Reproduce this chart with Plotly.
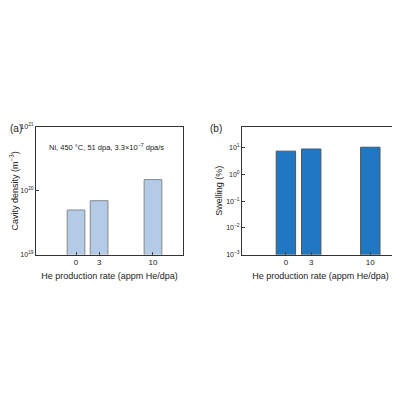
import plotly.graph_objects as go

he_rate = [0, 3, 10]
cavity_density = [5.0e19, 7.0e19, 1.5e20]
swelling = [7.5, 9.0, 10.5]
tick_labels = ["0", "3", "10"]

W = 400
OFF = 7
def px(a, b): return [(a - OFF) / W, (b - OFF) / W]
def py(a, b): return [1 - (b - OFF) / W, 1 - (a - OFF) / W]

fig = go.Figure()
fig.add_bar(x=he_rate, y=cavity_density, width=2.3, marker=dict(color="#b3cbe6", line=dict(color="#888888", width=1)), xaxis="x", yaxis="y")
fig.add_bar(x=he_rate, y=swelling, width=2.3, marker=dict(color="#1f78c1", line=dict(color="#555555", width=1)), xaxis="x2", yaxis="y2")

ax = dict(showline=True, linecolor="#333", mirror=True, ticks="inside", ticklen=3, showgrid=False, zeroline=False,
          tickfont=dict(size=8, family="Arial, Liberation Sans"))
fig.update_layout(
    width=400, height=400, margin=dict(l=0, r=0, t=0, b=0), showlegend=False,
    plot_bgcolor="white", paper_bgcolor="white",
    font=dict(family="Arial, Liberation Sans", size=9, color="#222"),
    xaxis=dict(ax, domain=px(35, 182), range=[-5.2, 13.9], tickvals=he_rate, ticktext=tick_labels, anchor="y",
               title=dict(text="He production rate (appm He/dpa)", standoff=6, font=dict(size=9))),
    yaxis=dict(ax, domain=py(124, 254), type="log", range=[19, 21], tickvals=[1e19, 1e20, 1e21],
               ticktext=["10<sup>19</sup>", "10<sup>20</sup>", "10<sup>21</sup>"], tickfont=dict(size=7), anchor="x",
               title=dict(text="Cavity density (m<sup>−3</sup>)", standoff=2, font=dict(size=9))),
    xaxis2=dict(ax, domain=px(241, 398), range=[-5.2, 13.4], tickvals=he_rate, ticktext=tick_labels, anchor="y2",
                title=dict(text="He production rate (appm He/dpa)", standoff=6, font=dict(size=9))),
    yaxis2=dict(ax, domain=py(124, 254), type="log", range=[-3, 1.78], tickvals=[1e-3, 1e-2, 1e-1, 1, 10],
                ticktext=["10<sup>−3</sup>", "10<sup>−2</sup>", "10<sup>−1</sup>", "10<sup>0</sup>", "10<sup>1</sup>"],
                tickfont=dict(size=7), anchor="x2",
                title=dict(text="Swelling (%)", standoff=2, font=dict(size=9))),
    annotations=[
        dict(text="(a)", x=(0) / W, y=1 - (126 - OFF) / W, xref="paper", yref="paper", xanchor="left", yanchor="middle", showarrow=False, font=dict(size=10)),
        dict(text="(b)", x=(207 - OFF) / W, y=1 - (126 - OFF) / W, xref="paper", yref="paper", xanchor="left", yanchor="middle", showarrow=False, font=dict(size=10)),
        dict(text="Ni, 450 °C, 51 dpa, 3.3×10<sup>−7</sup> dpa/s", x=(46 - OFF) / W, y=1 - (144 - OFF) / W, xref="paper", yref="paper",
             xanchor="left", yanchor="middle", showarrow=False, font=dict(size=7.5)),
    ],
)
fig.write_html("out.html")
